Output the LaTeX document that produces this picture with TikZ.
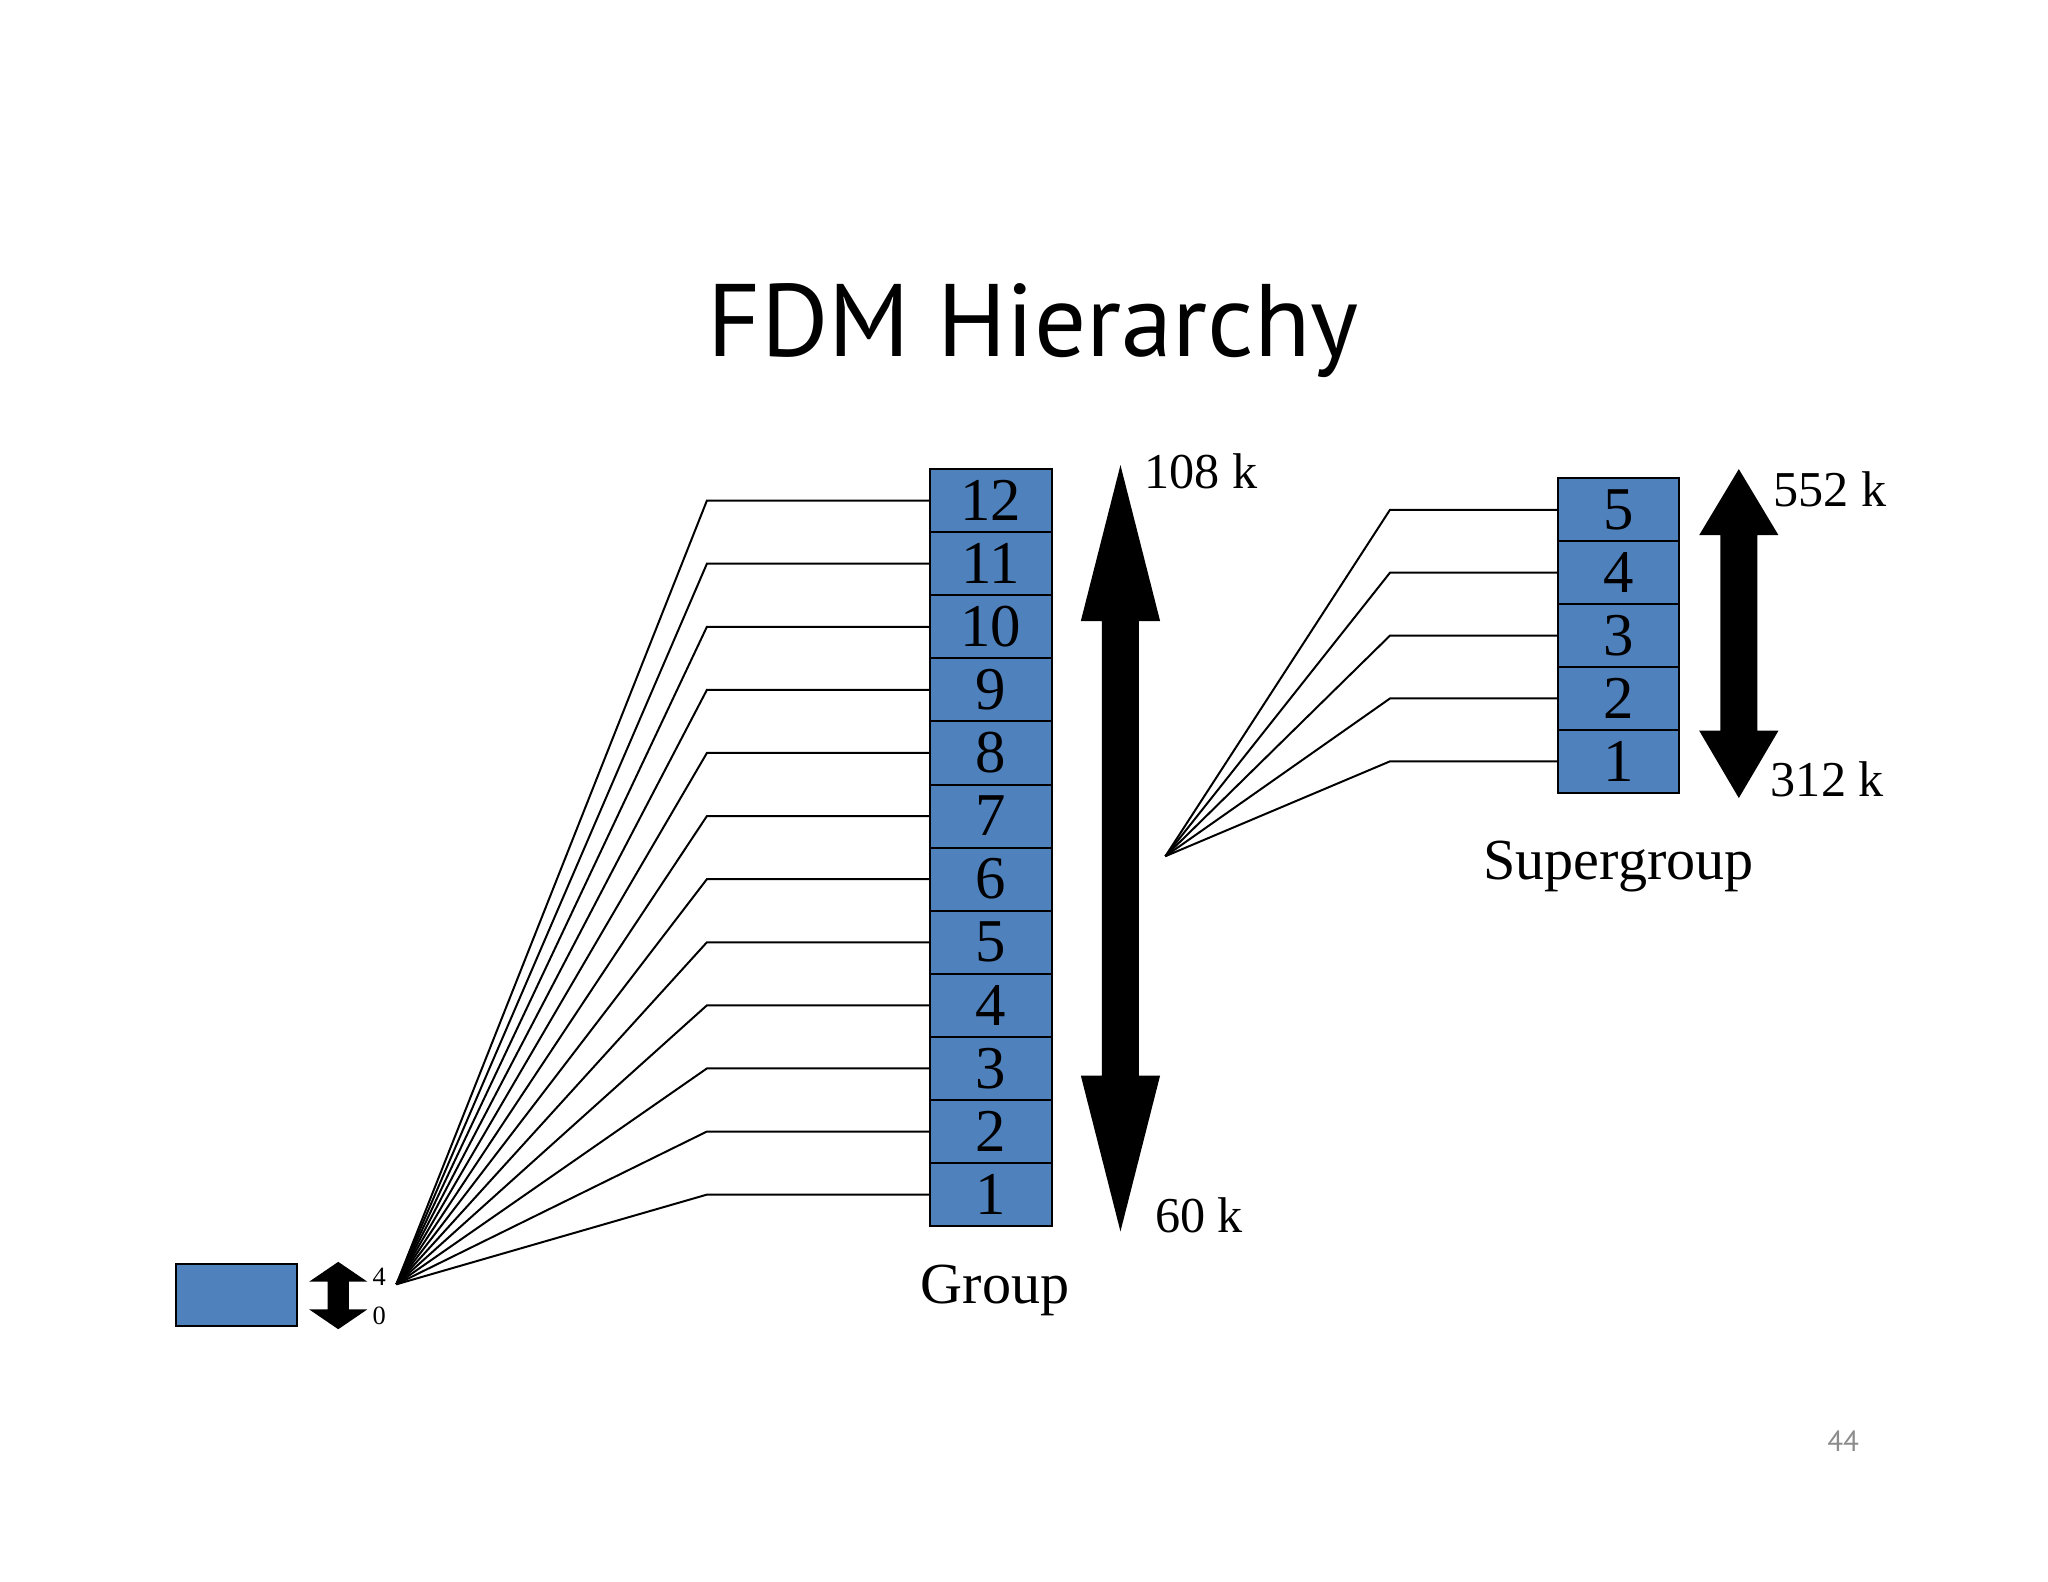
\documentclass[tikz,border=0pt]{standalone}
\usepackage{fontspec}
\setmainfont{Liberation Serif}
\newfontfamily\titlefont{PT Sans}
\begin{document}
\begin{tikzpicture}[x=1pt,y=-1pt,
  box/.style={draw=black,line width=1.5pt,fill={rgb,255:red,79;green,129;blue,189},minimum width=92pt,minimum height=47.7pt,inner sep=0pt,anchor=center,font=\fontsize{46}{46}\selectfont},
  lab/.style={font=\fontsize{38}{38}\selectfont,inner sep=0pt},
  wire/.style={line width=1.5pt}]
\useasboundingbox (0,0) rectangle (1550,1197);
\node[font=\titlefont\fontsize{78}{78}\selectfont] (title) at (782,250) {FDM Hierarchy};
% group boxes
\foreach \i in {1,...,12}{
  \node[box] (g\i) at (750,{928-47.75*(\i-0.5)}) {\i};
}
\coordinate (gf) at (300,972);
\foreach \i in {1,...,12}{
  \coordinate (gl\i) at (535,{928-47.75*(\i-0.5)});
  \draw[wire] (gf) -- (gl\i) -- (g\i.west);
}
% big group arrow
\fill (848,352) -- (878,470) -- (862,470) -- (862,814) -- (878,814) -- (848,932) -- (818,814) -- (834,814) -- (834,470) -- (818,470) -- cycle;
\node[lab,anchor=west] (t108) at (866,357) {108 k};
\node[lab,anchor=west] (t60) at (874,920) {60 k};
\node[lab,font=\fontsize{44}{44}\selectfont] (grp) at (753,977) {Group};
% supergroup
\foreach \i in {1,...,5}{
  \node[box] (s\i) at (1225,{600-47.6*(\i-0.5)}) {\i};
}
\coordinate (sf) at (882,648);
\foreach \i in {1,...,5}{
  \coordinate (sl\i) at (1052,{600-47.6*(\i-0.5)});
  \draw[wire] (sf) -- (sl\i) -- (s\i.west);
}
\fill (1316,355) -- (1346,405) -- (1330,405) -- (1330,553) -- (1346,553) -- (1316,604) -- (1286,553) -- (1302,553) -- (1302,405) -- (1286,405) -- cycle;
\node[lab,anchor=west] (t552) at (1342,370) {552 k};
\node[lab,anchor=west] (t312) at (1340,590) {312 k};
\node[lab,font=\fontsize{44}{44}\selectfont] (sgrp) at (1225,656) {Supergroup};
% single channel
\node[box,minimum width=92pt,minimum height=47pt] (ch) at (179,980) {};
\fill (256,955) -- (278,970) -- (264,970) -- (264,991) -- (278,991) -- (256,1006) -- (234,991) -- (248,991) -- (248,970) -- (234,970) -- cycle;
\node[lab,font=\fontsize{20}{20}\selectfont] (t4) at (287,966) {4};
\node[lab,font=\fontsize{20}{20}\selectfont] (t0) at (287,996) {0};
\node[font=\titlefont\fontsize{22}{22}\selectfont,text={rgb,255:red,140;green,140;blue,140}] (pg) at (1395,1091) {44};
\end{tikzpicture}
\end{document}
